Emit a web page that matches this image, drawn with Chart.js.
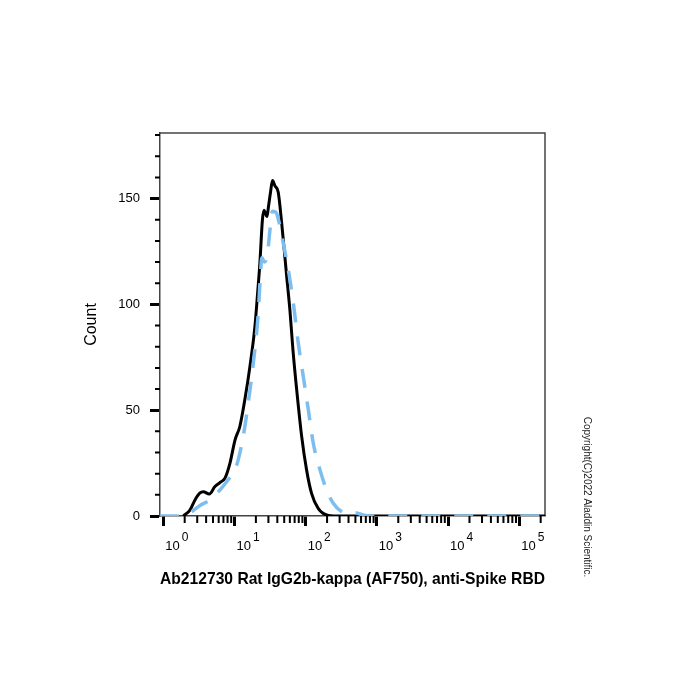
<!DOCTYPE html>
<html>
<head>
<meta charset="utf-8">
<script src="https://cdn.jsdelivr.net/npm/chart.js@4.4.1/dist/chart.umd.min.js"></script>
<style>
  html, body { margin: 0; padding: 0; background: #fff; }
  canvas { display: block; }
</style>
</head>
<body>
<canvas id="myChart" width="700" height="700"></canvas>
<script>
const FONT = "'Liberation Sans', Arial, Helvetica, sans-serif";

// stained sample (black, solid)
const stainedX = [1.91, 2.37, 2.79, 3.28, 3.65, 4.43, 5.32, 6.25, 7.36, 8.65, 10.2, 11.9, 14.0, 16.5, 19.4,
  21.0, 22.8, 24.7, 26.0, 27.3, 28.6, 30.0, 32.1, 34.2, 37.1, 41.2, 46.0, 54.1, 60.2, 66.3, 74.8, 87.9,
  103, 121, 150, 197, 272, 230000];
const stainedY = [0, 2.8, 7.6, 10.9, 11.5, 10.4, 13.9, 15.8, 17.9, 25, 36, 42.3, 55, 70.7, 89.7,
  104, 120, 140, 144.5, 143, 141.5, 146, 153, 158.5, 156, 153, 138.6, 113.4, 97, 78.5, 59.7, 37.6,
  21.8, 10.7, 3.6, 0.5, 0, 0];

// isotype control (blue, dashed)
const isotypeX = [0.9, 2.02, 2.5, 3.28, 4.53, 6.25, 8.11, 10.2, 11.9, 14.0, 15.6, 18.4, 21.6, 22.8,
  24.3, 26.4, 29.1, 31.5, 34.2, 38.3, 42.2, 48.4, 57.0, 67.0, 78.7, 92.5, 109, 128, 159, 197, 244,
  321, 393, 492, 638, 800, 230000];
const isotypeY = [0, 0, 2, 5, 7.6, 12.3, 17, 21.8, 29.7, 42.3, 53.4, 72.3, 96, 110,
  122, 120, 124, 135, 144, 143.5, 139, 129, 116.5, 100.8, 81.8, 66, 50.2, 34.4, 21.8, 12.3, 6,
  2, 1.2, 1.5, 0.5, 0, 0];

const yMajorTicks = [0, 50, 100, 150];
const yMinorTicks = [10, 20, 30, 40, 60, 70, 80, 90, 110, 120, 130, 140, 160, 170, 180];
const xDecades = [0, 1, 2, 3, 4, 5];
const xMinorSteps = [2, 3, 4, 5, 6, 7, 8, 9];

const xTitle = "Ab212730 Rat IgG2b-kappa (AF750), anti-Spike RBD";
const yTitle = "Count";
const copyright = "Copyright(C)2022 Aladdin Scientific.";

const toPoints = (xs, ys) => xs.map((x, i) => ({ x: x, y: ys[i] }));

// frame, minor ticks and the 10^n labels
const flowAxes = {
  id: "flowAxes",
  beforeDatasetsDraw(chart) {
    const { ctx, chartArea: a, scales: { x, y } } = chart;
    ctx.save();
    ctx.strokeStyle = "#444";
    ctx.lineWidth = 1.5;
    ctx.beginPath();
    ctx.moveTo(a.left, a.top);
    ctx.lineTo(a.right, a.top);
    ctx.lineTo(a.right, a.bottom);
    ctx.stroke();

    ctx.strokeStyle = "#000";
    ctx.lineWidth = 2;
    ctx.beginPath();
    xDecades.forEach((d) =>
      xMinorSteps.forEach((s) => {
        const v = s * Math.pow(10, d);
        if (v > x.max) return;
        const px = x.getPixelForValue(v);
        ctx.moveTo(px, a.bottom);
        ctx.lineTo(px, a.bottom + 7);
      })
    );
    yMinorTicks.forEach((v) => {
      const py = y.getPixelForValue(v);
      ctx.moveTo(a.left, py);
      ctx.lineTo(a.left - 5, py);
    });
    ctx.stroke();
    ctx.restore();
  },
  afterDraw(chart) {
    const { ctx, chartArea: a, scales: { x } } = chart;
    ctx.save();
    ctx.fillStyle = "#000";
    ctx.textAlign = "left";
    ctx.textBaseline = "alphabetic";
    xDecades.forEach((d) => {
      const px = x.getPixelForValue(Math.pow(10, d));
      ctx.font = "13px " + FONT;
      ctx.fillText("10", px + 2, a.bottom + 34);
      const w = ctx.measureText("10").width;
      ctx.font = "12px " + FONT;
      ctx.fillText(String(d), px + 4 + w, a.bottom + 25);
    });

    ctx.translate(587, 497);
    ctx.rotate(Math.PI / 2);
    ctx.font = "10px " + FONT;
    ctx.fillStyle = "#222";
    ctx.textAlign = "center";
    ctx.textBaseline = "middle";
    ctx.fillText(copyright, 0, 0);
    ctx.restore();
  },
};

const chart = new Chart(document.getElementById("myChart"), {
  type: "line",
  data: {
    datasets: [
      {
        label: "isotype",
        data: toPoints(isotypeX, isotypeY),
        borderColor: "rgb(125, 190, 240)",
        borderWidth: 3.5,
        borderDash: [19, 14],
        order: 1,
      },
      {
        label: "stained",
        data: toPoints(stainedX, stainedY),
        borderColor: "#000",
        borderWidth: 3,
        order: 2,
      },
    ],
  },
  options: {
    responsive: false,
    animation: false,
    layout: { padding: { left: 60, right: 155, top: 133, bottom: 104 } },
    elements: {
      point: { radius: 0 },
      line: { cubicInterpolationMode: "monotone", fill: false },
    },
    plugins: { legend: { display: false }, tooltip: { enabled: false } },
    scales: {
      x: {
        type: "logarithmic",
        bounds: "data",
        min: 0.9,
        max: 230000,
        afterBuildTicks: (s) => {
          s.ticks = xDecades.map((d) => ({ value: Math.pow(10, d) }));
        },
        afterFit: (s) => {
          s.height = 80;
        },
        ticks: { display: false, autoSkip: false },
        grid: { drawOnChartArea: false, tickLength: 10, tickWidth: 3, tickColor: "#000" },
        border: { display: true, color: "#444", width: 1.5 },
        title: {
          display: true,
          text: xTitle,
          color: "#000",
          font: { family: FONT, size: 17, weight: "bold" },
          padding: { top: 0, bottom: 6 },
        },
      },
      y: {
        type: "linear",
        min: 0,
        max: 181,
        afterBuildTicks: (s) => {
          s.ticks = yMajorTicks.map((v) => ({ value: v }));
        },
        afterFit: (s) => {
          s.width = 100;
        },
        ticks: { color: "#000", padding: 10, font: { family: FONT, size: 13 } },
        grid: { drawOnChartArea: false, tickLength: 10, tickWidth: 3, tickColor: "#000" },
        border: { display: true, color: "#444", width: 1.5 },
        title: {
          display: true,
          text: yTitle,
          color: "#000",
          font: { family: FONT, size: 16 },
          padding: { top: 22, bottom: 0 },
        },
      },
    },
  },
  plugins: [flowAxes],
});
</script>
</body>
</html>
